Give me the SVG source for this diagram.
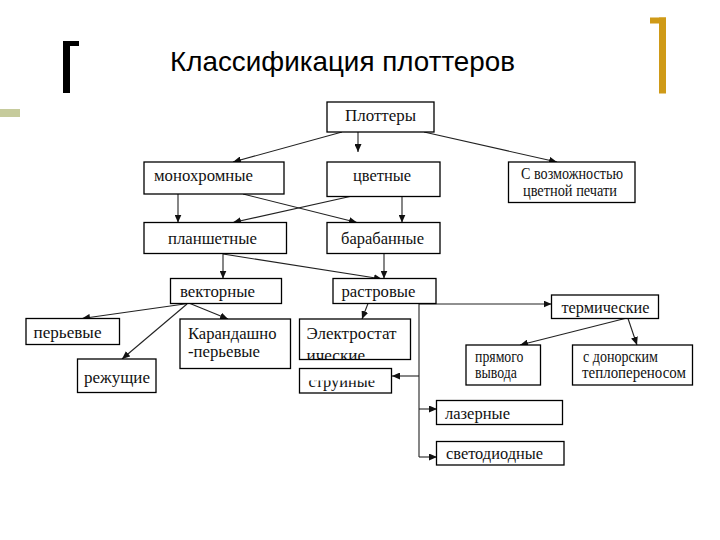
<svg xmlns="http://www.w3.org/2000/svg" width="720" height="540" viewBox="0 0 720 540">
<style>
.box{fill:#fff;stroke:#000;stroke-width:1.3}
.t{font-family:"Liberation Serif","Times New Roman",serif;font-size:16px;fill:#111}
.c{fill:none;stroke:#222;stroke-width:1.1}
.ttl{font-family:"Liberation Sans",Arial,sans-serif;font-size:28.5px;fill:#000}
</style>
<defs>
<marker id="ah" markerUnits="userSpaceOnUse" markerWidth="9" markerHeight="7" refX="8" refY="3.5" orient="auto">
<path d="M0,0 L8,3.5 L0,7 z" fill="#111"/>
</marker>
<clipPath id="clipE"><rect x="300" y="320" width="110" height="39.5"/></clipPath>
<clipPath id="clipS"><rect x="300" y="380.5" width="92" height="12"/></clipPath>
<clipPath id="clipL"><rect x="437" y="410.8" width="125" height="13"/></clipPath>
</defs>
<rect width="720" height="540" fill="#fff"/>
<g id="decor">
<rect x="63" y="41" width="7" height="52" fill="#000"/>
<rect x="63" y="41" width="16" height="5" fill="#000"/>
<rect x="659" y="17.5" width="7" height="76" fill="#CF9A17"/>
<rect x="650" y="17.5" width="16" height="6" fill="#CF9A17"/>
<rect x="0" y="109" width="20" height="8" fill="#C6CB9C"/>
</g>
<text id="title" class="ttl" x="170" y="71" textLength="345" lengthAdjust="spacingAndGlyphs">Классификация плоттеров</text>
<g id="connectors">
<line class="c" x1="342" y1="132" x2="233" y2="162" marker-end="url(#ah)"/>
<line class="c" x1="358" y1="132" x2="358" y2="152" marker-end="url(#ah)"/>
<line class="c" x1="424" y1="132" x2="557" y2="162" marker-end="url(#ah)"/>
<line class="c" x1="178" y1="194" x2="178" y2="222.5" marker-end="url(#ah)"/>
<line class="c" x1="243" y1="194" x2="357" y2="222.5" marker-end="url(#ah)"/>
<line class="c" x1="350" y1="196.5" x2="233" y2="222.5" marker-end="url(#ah)"/>
<line class="c" x1="402" y1="196.5" x2="402" y2="222.5" marker-end="url(#ah)"/>
<line class="c" x1="223" y1="253.5" x2="223" y2="278.5" marker-end="url(#ah)"/>
<line class="c" x1="223" y1="254" x2="382" y2="279" marker-end="url(#ah)"/>
<line class="c" x1="384" y1="253.5" x2="384" y2="278.5" marker-end="url(#ah)"/>
<line class="c" x1="188" y1="303.5" x2="82" y2="318.5" marker-end="url(#ah)"/>
<line class="c" x1="187" y1="304" x2="122" y2="359" marker-end="url(#ah)"/>
<line class="c" x1="190" y1="303.5" x2="228" y2="319" marker-end="url(#ah)"/>
<line class="c" x1="368" y1="303.5" x2="362" y2="319" marker-end="url(#ah)"/>
<line class="c" x1="419" y1="304" x2="551.5" y2="304" marker-end="url(#ah)"/>
<line class="c" x1="419" y1="304" x2="419" y2="457"/>
<line class="c" x1="419" y1="376" x2="392" y2="376" marker-end="url(#ah)"/>
<line class="c" x1="419" y1="409" x2="437" y2="409" marker-end="url(#ah)"/>
<line class="c" x1="419" y1="457" x2="437" y2="457" marker-end="url(#ah)"/>
<line class="c" x1="625" y1="318.5" x2="520" y2="345" marker-end="url(#ah)"/>
<line class="c" x1="628" y1="318.5" x2="637" y2="345" marker-end="url(#ah)"/>
</g>
<g id="n-plottery"><rect class="box" x="327" y="102" width="107" height="30"/><text class="t" x="345" y="121" textLength="71" lengthAdjust="spacingAndGlyphs">Плоттеры</text></g>
<g id="n-mono"><rect class="box" x="144" y="162" width="140" height="32"/><text class="t" x="154" y="181" textLength="99" lengthAdjust="spacingAndGlyphs">монохромные</text></g>
<g id="n-color"><rect class="box" x="327" y="162" width="113" height="34.5"/><text class="t" x="353" y="181" textLength="58" lengthAdjust="spacingAndGlyphs">цветные</text></g>
<g id="n-colorprint"><rect class="box" x="508.5" y="162" width="126.5" height="40.5"/><text class="t" x="521" y="178.5" textLength="102" lengthAdjust="spacingAndGlyphs">С возможностью</text><text class="t" x="523" y="196" textLength="94" lengthAdjust="spacingAndGlyphs">цветной печати</text></g>
<g id="n-plansh"><rect class="box" x="144" y="222.5" width="142.5" height="31"/><text class="t" x="168" y="243.5" textLength="89" lengthAdjust="spacingAndGlyphs">планшетные</text></g>
<g id="n-baraban"><rect class="box" x="327" y="222.5" width="113" height="31"/><text class="t" x="341" y="243.5" textLength="83" lengthAdjust="spacingAndGlyphs">барабанные</text></g>
<g id="n-vector"><rect class="box" x="170.5" y="278.5" width="111" height="25"/><text class="t" x="180" y="297" textLength="75" lengthAdjust="spacingAndGlyphs">векторные</text></g>
<g id="n-raster"><rect class="box" x="333" y="278.5" width="103" height="25"/><text class="t" x="341.5" y="296.5" textLength="74" lengthAdjust="spacingAndGlyphs">растровые</text></g>
<g id="n-therm"><rect class="box" x="551.5" y="295" width="107" height="23.5"/><text class="t" x="561.5" y="312.5" textLength="88" lengthAdjust="spacingAndGlyphs">термические</text></g>
<g id="n-pen"><rect class="box" x="26" y="318.5" width="93.5" height="26"/><text class="t" x="33.5" y="337.5" textLength="68" lengthAdjust="spacingAndGlyphs">перьевые</text></g>
<g id="n-pencil"><rect class="box" x="180" y="319" width="110.5" height="49.5"/><text class="t" x="188" y="338.5" textLength="88.5" lengthAdjust="spacingAndGlyphs">Карандашно</text><text class="t" x="188" y="357" textLength="72" lengthAdjust="spacingAndGlyphs">-перьевые</text></g>
<g id="n-cut"><rect class="box" x="77.5" y="359" width="78.5" height="33.5"/><text class="t" x="84" y="383" textLength="66" lengthAdjust="spacingAndGlyphs">режущие</text></g>
<g id="n-electro"><rect class="box" x="299.5" y="319" width="111" height="40.5"/><text class="t" x="306.5" y="338.5" textLength="90" lengthAdjust="spacingAndGlyphs">Электростат</text><text class="t" x="306.5" y="361" textLength="58.5" lengthAdjust="spacingAndGlyphs" clip-path="url(#clipE)">ические</text></g>
<g id="n-jet"><rect class="box" x="299.5" y="368.5" width="92" height="24.5"/><text class="t" x="308.5" y="387" textLength="66.5" lengthAdjust="spacingAndGlyphs" clip-path="url(#clipS)">струйные</text></g>
<g id="n-direct"><rect class="box" x="466" y="345" width="74.5" height="40"/><text class="t" x="475" y="361.5" textLength="48.5" lengthAdjust="spacingAndGlyphs">прямого</text><text class="t" x="475" y="377.5" textLength="42" lengthAdjust="spacingAndGlyphs">вывода</text></g>
<g id="n-donor"><rect class="box" x="572.5" y="345" width="120" height="40"/><text class="t" x="583" y="361.5" textLength="75" lengthAdjust="spacingAndGlyphs">с донорским</text><text class="t" x="582" y="377.5" textLength="104" lengthAdjust="spacingAndGlyphs">теплопереносом</text></g>
<g id="n-laser"><rect class="box" x="436.5" y="400.5" width="126" height="24"/><text class="t" x="445" y="418.5" textLength="65" lengthAdjust="spacingAndGlyphs" clip-path="url(#clipL)">лазерные</text></g>
<g id="n-led"><rect class="box" x="436.5" y="441.5" width="127.5" height="23.5"/><text class="t" x="446" y="458.5" textLength="97" lengthAdjust="spacingAndGlyphs">светодиодные</text></g>
</svg>
